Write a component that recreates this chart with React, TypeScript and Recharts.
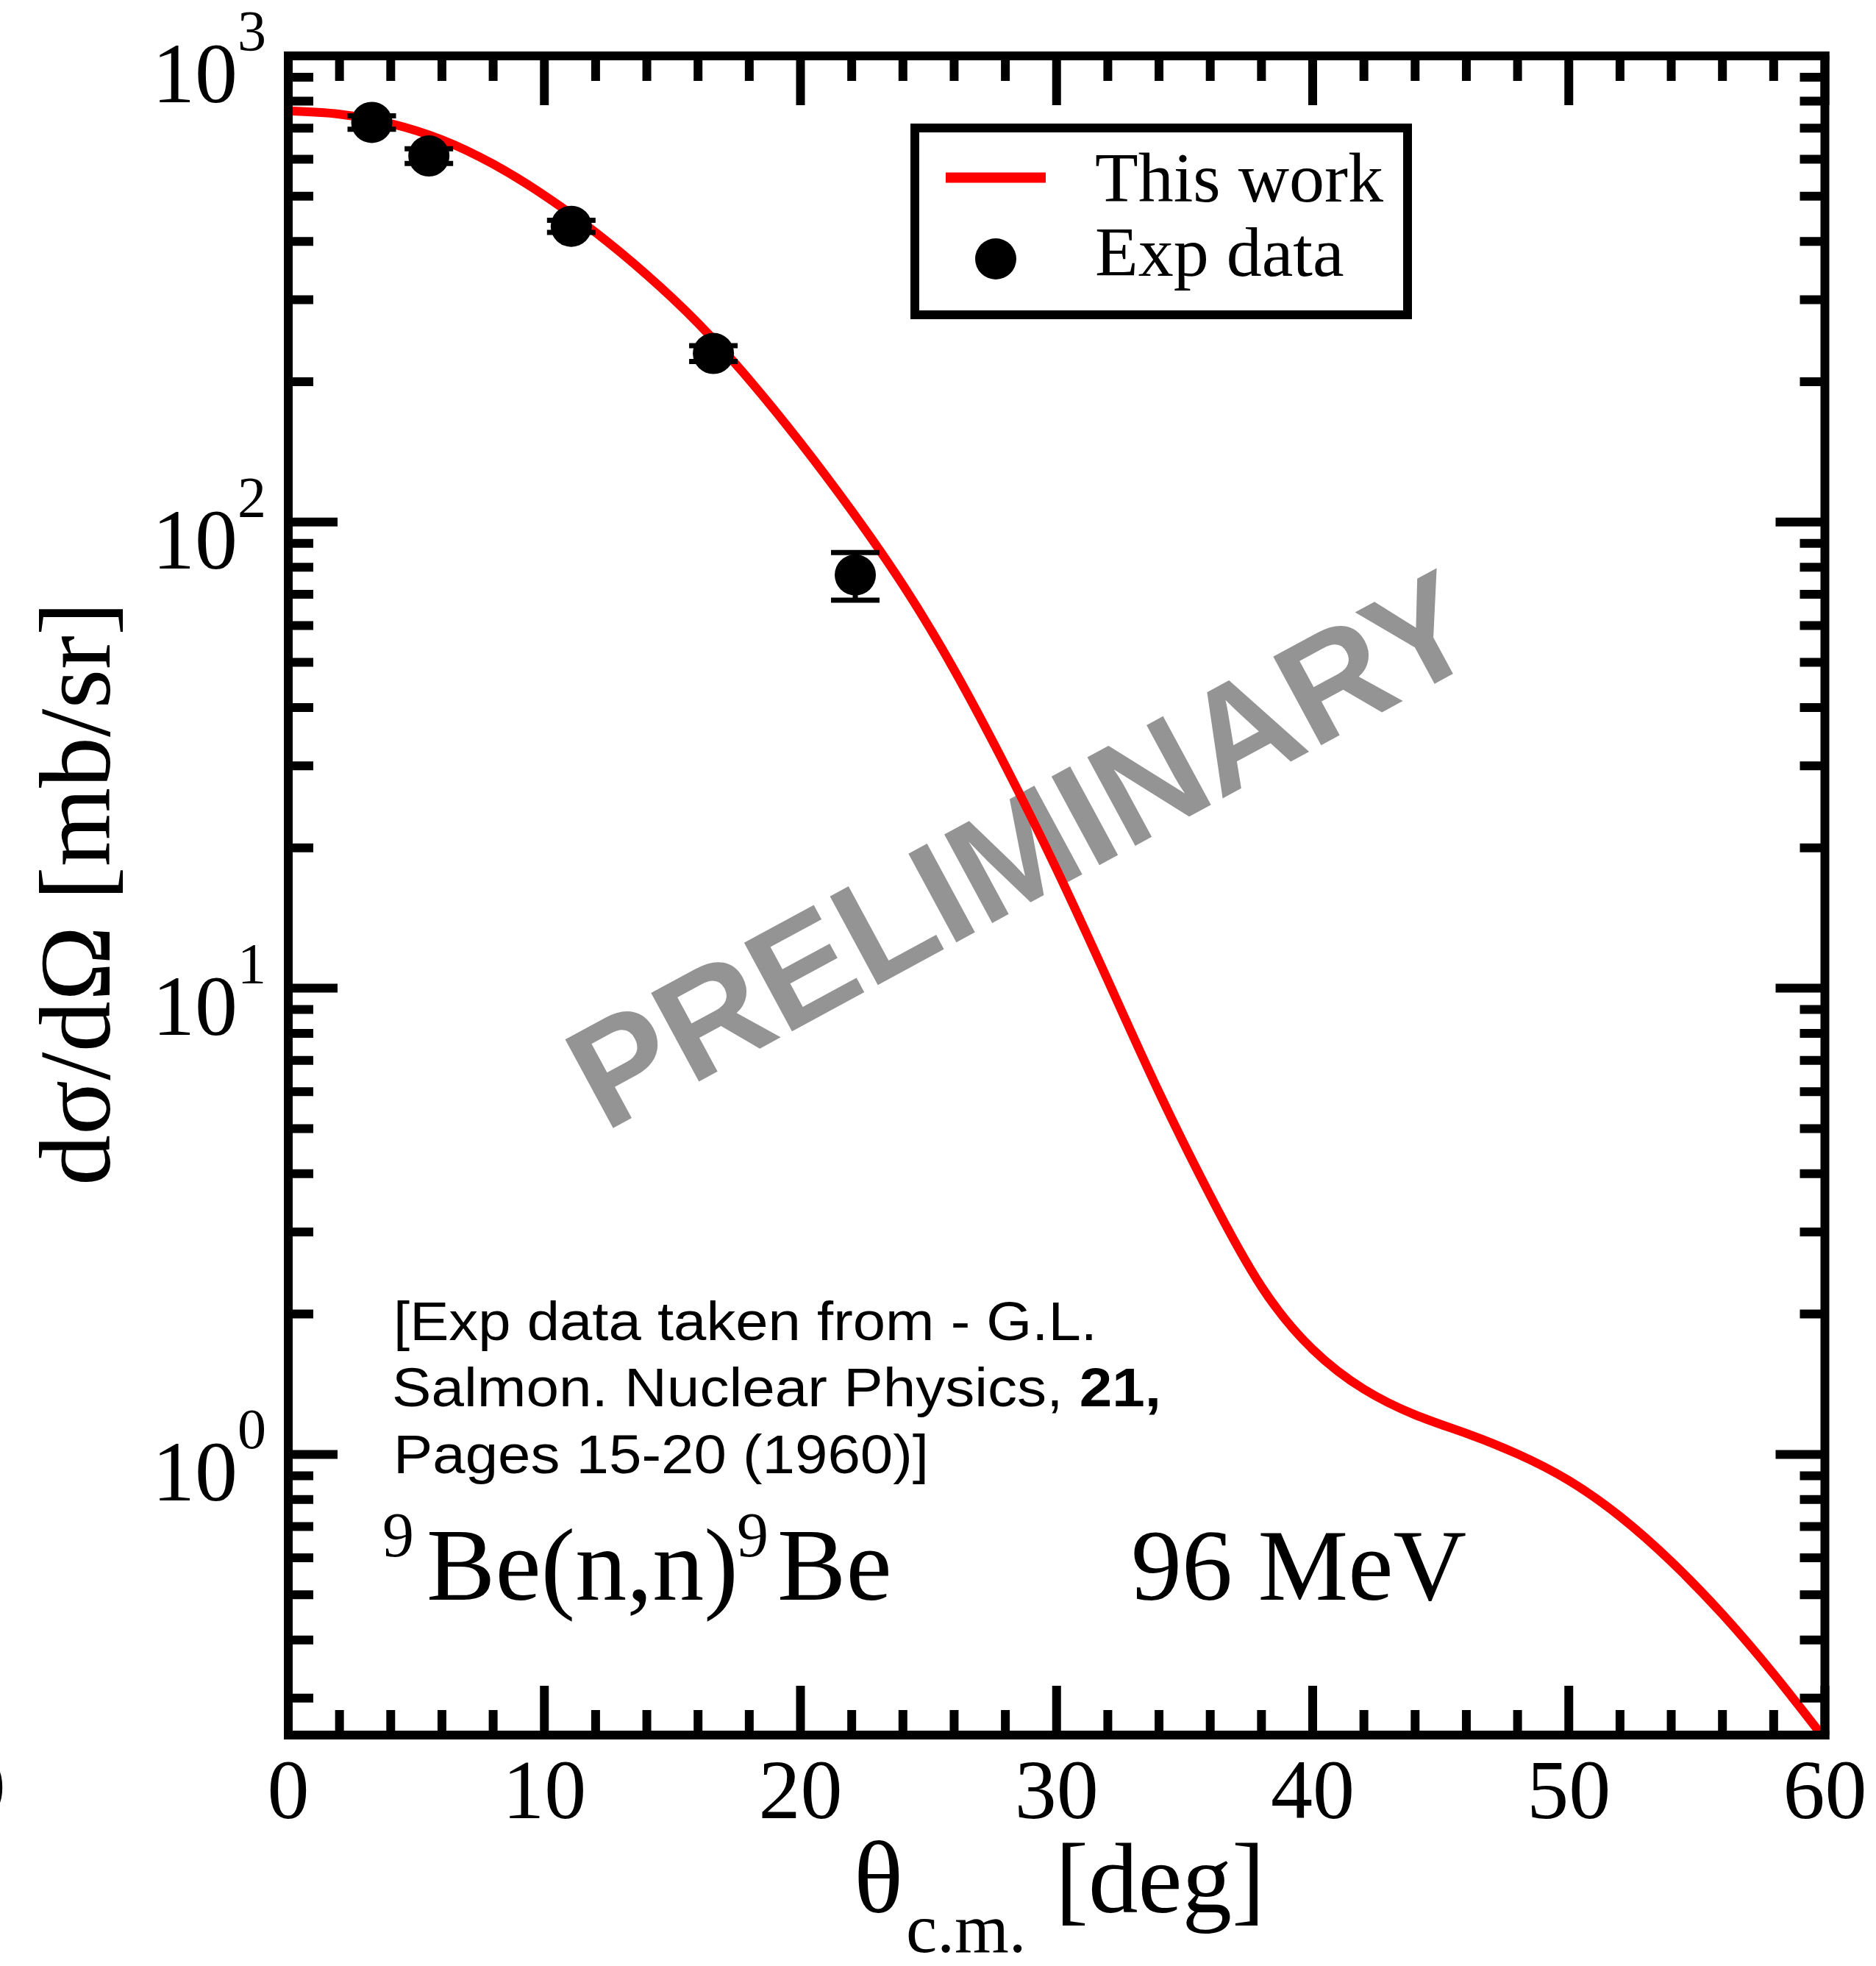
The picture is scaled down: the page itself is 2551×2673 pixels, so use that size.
import React from 'react';
import { ComposedChart, Line, Scatter, XAxis, YAxis, ErrorBar, Legend } from 'recharts';

// ---------- data ----------
const curveTheta = [0, 2, 4, 6, 8, 10, 12, 14, 16, 18, 20, 22, 24, 26, 28, 30, 32, 34, 36, 38, 40, 42, 44, 46, 48, 50, 52, 54, 56, 58, 60];
const curveSigma = [762, 750, 716, 661, 586, 502, 418, 339, 267, 202, 148, 105.7, 73.3, 48.2, 30.0, 18.0, 10.4, 5.98, 3.59, 2.29, 1.68, 1.38, 1.216, 1.109, 1.002, 0.879, 0.736, 0.589, 0.454, 0.338, 0.245];

const expTheta = [3.26, 5.49, 11.05, 16.6, 22.14];
const expSigma = [720, 610, 431, 230, 77];
const expErr = [24, 22, 13, 9, 9];

const xTicks = [0, 2, 4, 6, 8, 10, 12, 14, 16, 18, 20, 22, 24, 26, 28, 30, 32, 34, 36, 38, 40, 42, 44, 46, 48, 50, 52, 54, 56, 58, 60];
const xMajor = [0, 10, 20, 30, 40, 50, 60];
const yTicks = [0.3, 0.4, 0.5, 0.6, 0.7, 0.8, 0.9, 1, 2, 3, 4, 5, 6, 7, 8, 9, 10, 20, 30, 40, 50, 60, 70, 80, 90, 100, 200, 300, 400, 500, 600, 700, 800, 900, 1000];
const yMajor = [1, 10, 100, 1000];
const seriesNames = ['This work', 'Exp data'];

const curveData = curveTheta.map((t, i) => ({ theta: t, sigma: curveSigma[i] }));
const expData = expTheta.map((t, i) => ({ theta: t, sigma: expSigma[i], err: expErr[i] }));

// ---------- layout ----------
const W = 2551;
const H = 2673;
const PL = 392;
const PT = 76;
const PR = 2481.5;
const PB = 2359;
const SERIF = "'Liberation Serif','Times New Roman',Times,serif";
const SANS = "'Liberation Sans',Arial,Helvetica,sans-serif";
const TW = 12;
const MAJ = 67;
const MIN = 34;

function BottomTick(props: any) {
  const { x, y, payload } = props;
  const v = payload.value;
  const major = xMajor.includes(v);
  return (
    <g>
      <line x1={x} x2={x} y1={y} y2={y - (major ? MAJ : MIN)} stroke="#000" strokeWidth={TW} />
      {major && (
        <text x={x} y={y + 113} textAnchor="middle" fontFamily={SERIF} fontSize={114} fill="#000">
          {v}
        </text>
      )}
    </g>
  );
}

function TopTick(props: any) {
  const { x, y, payload } = props;
  const major = xMajor.includes(payload.value);
  return <line x1={x} x2={x} y1={y} y2={y + (major ? MAJ : MIN)} stroke="#000" strokeWidth={TW} />;
}

function LeftTick(props: any) {
  const { x, y, payload } = props;
  const v = payload.value;
  const major = yMajor.includes(v);
  const exp = Math.round(Math.log10(v));
  return (
    <g>
      <line x1={x} x2={x + (major ? MAJ : MIN)} y1={y} y2={y} stroke="#000" strokeWidth={TW} />
      {major && (
        <text x={x - 30} y={y + 63} textAnchor="end" fontFamily={SERIF} fontSize={116} fill="#000">
          10<tspan fontSize={78} dy={-71}>{exp}</tspan>
        </text>
      )}
    </g>
  );
}

function RightTick(props: any) {
  const { x, y, payload } = props;
  const major = yMajor.includes(payload.value);
  return <line x1={x} x2={x - (major ? MAJ : MIN)} y1={y} y2={y} stroke="#000" strokeWidth={TW} />;
}

function LegendBox(props: any) {
  const payload = (props && props.payload) || [];
  const lineItem = payload.find((p: any) => p.type === 'line');
  const dotItem = payload.find((p: any) => p.type !== 'line');
  return (
    <svg width={682} height={266} style={{ display: 'block', overflow: 'visible' }}>
      <rect x={6} y={6} width={670} height={254} fill="#fff" stroke="#000" strokeWidth={12} />
      <line x1={48} x2={184} y1={73.5} y2={73.5} stroke={lineItem ? lineItem.color : '#ff0000'} strokeWidth={14} />
      <text x={251} y={106} fontFamily={SERIF} fontSize={96} fill="#000">
        {lineItem ? lineItem.value : seriesNames[0]}
      </text>
      <circle cx={116} cy={184} r={28} fill="#000" />
      <text x={251} y={207} fontFamily={SERIF} fontSize={96} fill="#000">
        {dotItem ? dotItem.value : seriesNames[1]}
      </text>
    </svg>
  );
}

const axisLineStyle = { stroke: '#000', strokeWidth: TW, strokeLinecap: 'square' as const };

export default function App() {
  return (
    <div style={{ position: 'absolute', left: 0, top: 0, width: W, height: H, background: '#fff', overflow: 'hidden' }}>
      {/* watermark underneath */}
      <svg width={W} height={H} style={{ position: 'absolute', left: 0, top: 0 }}>
        <text
          x={822}
          y={1540}
          transform="rotate(-28.4 822 1540)"
          fontFamily={SANS}
          fontWeight="bold"
          fontSize={199}
          fill="#949494"
        >
          PRELIMINARY
        </text>
      </svg>

      <div style={{ position: 'absolute', left: 0, top: 0 }}>
        <ComposedChart
          width={W}
          height={H}
          margin={{ top: PT - 1, left: PL - 1, right: W - PR - 1, bottom: H - PB - 1 }}
        >
          <XAxis
            xAxisId="b"
            type="number"
            dataKey="theta"
            domain={[0, 60]}
            ticks={xTicks}
            interval={0}
            height={1}
            tickSize={0}
            tickMargin={0}
            tickLine={false}
            axisLine={axisLineStyle}
            tick={<BottomTick />}
            allowDataOverflow
          />
          <XAxis
            xAxisId="t"
            orientation="top"
            type="number"
            dataKey="theta"
            domain={[0, 60]}
            ticks={xTicks}
            interval={0}
            height={1}
            tickSize={0}
            tickMargin={0}
            tickLine={false}
            axisLine={axisLineStyle}
            tick={<TopTick />}
            allowDataOverflow
          />
          <YAxis
            yAxisId="l"
            scale="log"
            type="number"
            dataKey="sigma"
            domain={[0.25, 1000]}
            ticks={yTicks}
            interval={0}
            width={1}
            tickSize={0}
            tickMargin={0}
            tickLine={false}
            axisLine={axisLineStyle}
            tick={<LeftTick />}
            allowDataOverflow
          />
          <YAxis
            yAxisId="r"
            orientation="right"
            scale="log"
            type="number"
            dataKey="sigma"
            domain={[0.25, 1000]}
            ticks={yTicks}
            interval={0}
            width={1}
            tickSize={0}
            tickMargin={0}
            tickLine={false}
            axisLine={axisLineStyle}
            tick={<RightTick />}
            allowDataOverflow
          />
          <Line
            xAxisId="b"
            yAxisId="l"
            data={curveData}
            dataKey="sigma"
            name={seriesNames[0]}
            type="natural"
            stroke="#ff0000"
            strokeWidth={12}
            dot={false}
            activeDot={false}
            legendType="line"
            isAnimationActive={false}
          />
          <Scatter
            xAxisId="b"
            yAxisId="l"
            data={expData}
            dataKey="sigma"
            name={seriesNames[1]}
            fill="#000"
            legendType="circle"
            isAnimationActive={false}
            shape={(p: any) => <circle cx={p.cx} cy={p.cy} r={28} fill="#000" />}
          >
            <ErrorBar dataKey="err" direction="y" width={33} strokeWidth={7} stroke="#000" isAnimationActive={false} />
          </Scatter>
          <Legend
            layout="horizontal"
            align="center"
            verticalAlign="middle"
            wrapperStyle={{ left: 1238, top: 168, width: 682, height: 266 }}
            content={<LegendBox />}
          />
        </ComposedChart>
      </div>

      {/* titles & annotations */}
      <svg width={W} height={H} style={{ position: 'absolute', left: 0, top: 0, pointerEvents: 'none' }}>
        <text transform="translate(149,1215) rotate(-90)" textAnchor="middle" fontFamily={SERIF} fontSize={138} fill="#000">
          dσ/dΩ [mb/sr]
        </text>
        <text x={1161} y={2600} fontFamily={SERIF} fontSize={140} fill="#000">θ</text>
        <text x={1232} y={2654} fontFamily={SERIF} fontSize={95} fill="#000">c.m.</text>
        <text x={1435} y={2600} fontFamily={SERIF} fontSize={135} fill="#000">[deg]</text>

        <text x={-18} y={2462} textAnchor="middle" fontFamily={SERIF} fontSize={100} fill="#000">0</text>

        <text x={535} y={1822} fontFamily={SANS} fontSize={75} fill="#000" textLength={957} lengthAdjust="spacingAndGlyphs">
          [Exp data taken from - G.L.
        </text>
        <text x={533} y={1912} fontFamily={SANS} fontSize={75} fill="#000" textLength={1046} lengthAdjust="spacingAndGlyphs">
          Salmon. Nuclear Physics, <tspan fontWeight="bold">21,</tspan>
        </text>
        <text x={535} y={2003} fontFamily={SANS} fontSize={75} fill="#000" textLength={728} lengthAdjust="spacingAndGlyphs">
          Pages 15-20 (1960)]
        </text>

        <text fontFamily={SERIF} fill="#000">
          <tspan x={520} y={2116} fontSize={86}>9</tspan>
          <tspan x={580} y={2175} fontSize={140}>Be(n,n)</tspan>
          <tspan x={1002} y={2116} fontSize={86}>9</tspan>
          <tspan x={1057} y={2175} fontSize={140}>Be</tspan>
        </text>
        <text x={1538} y={2175} fontFamily={SERIF} fontSize={138} fill="#000">96 MeV</text>
      </svg>
    </div>
  );
}
